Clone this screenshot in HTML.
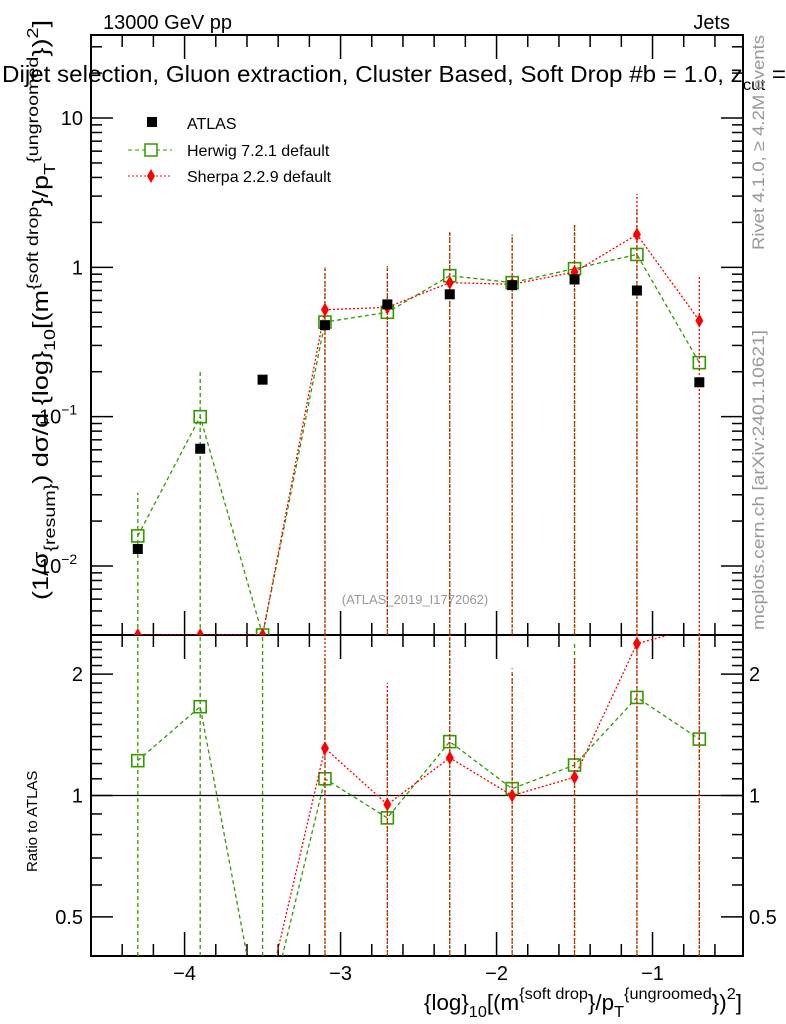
<!DOCTYPE html>
<html><head><meta charset="utf-8"><style>
body{margin:0;background:#fff;}
svg{display:block;font-family:"Liberation Sans",sans-serif;}
</style></head><body>
<svg id="c" width="786" height="1024" viewBox="0 0 786 1024">
<g id="static">
<text x="103" y="29" font-size="20">13000 GeV pp</text>
<text x="730" y="29" font-size="20" text-anchor="end">Jets</text>
<text x="2" y="82" font-size="23" textLength="784" lengthAdjust="spacingAndGlyphs">Dijet selection, Gluon extraction, Cluster Based, Soft Drop #b = 1.0, z<tspan font-size="16" dy="8">cut</tspan><tspan dy="-8"> =</tspan></text>
<text transform="translate(764,250) rotate(-90)" font-size="17" fill="#999" textLength="215" lengthAdjust="spacingAndGlyphs">Rivet 4.1.0, ≥ 4.2M events</text>
<text transform="translate(764,630) rotate(-90)" font-size="17" fill="#999" textLength="300" lengthAdjust="spacingAndGlyphs">mcplots.cern.ch [arXiv:2401.10621]</text>
<text x="415" y="604" font-size="13" fill="#999" text-anchor="middle">(ATLAS_2019_I1772062)</text>
<text transform="translate(48,600) rotate(-90)" font-size="22" textLength="580" lengthAdjust="spacingAndGlyphs">(1/σ<tspan font-size="16" dy="7">{resum}</tspan><tspan dy="-7">) dσ/d {log}</tspan><tspan font-size="16" dy="7">10</tspan><tspan dy="-7">[(m</tspan><tspan font-size="16" dy="-10">{soft drop</tspan><tspan dy="10">}/p</tspan><tspan font-size="16" dy="7">T</tspan><tspan font-size="16" dy="-17">{ungroomed</tspan><tspan dy="10">})</tspan><tspan font-size="16" dy="-10">2</tspan><tspan dy="10">]</tspan></text>
<text transform="translate(37,872) rotate(-90)" font-size="15">Ratio to ATLAS</text>
<text x="742" y="1010" font-size="22" text-anchor="end" textLength="318" lengthAdjust="spacingAndGlyphs">{log}<tspan font-size="16" dy="7">10</tspan><tspan dy="-7">[(m</tspan><tspan font-size="16" dy="-11">{soft drop</tspan><tspan dy="11">}/p</tspan><tspan font-size="16" dy="7">T</tspan><tspan font-size="16" dy="-18">{ungroomed</tspan><tspan dy="11">})</tspan><tspan font-size="16" dy="-11">2</tspan><tspan dy="11">]</tspan></text>
<g>
<rect x="147" y="117" width="10" height="10" fill="#000"/>
<text x="187" y="129" font-size="16">ATLAS</text>
<line x1="128" y1="150" x2="172" y2="150" stroke="#390" stroke-dasharray="4,3"/>
<rect x="145" y="144" width="12" height="12" fill="#fff" stroke="#390" stroke-width="1.5"/>
<text x="187" y="156" font-size="16">Herwig 7.2.1 default</text>
<line x1="128" y1="176" x2="172" y2="176" stroke="#f00" stroke-dasharray="2,2"/>
<path d="M151,169 L155,176 L151,183 L147,176Z" fill="#f00"/>
<text x="187" y="182" font-size="16">Sherpa 2.2.9 default</text>
</g>
</g>
<g id="dyn"></g>
</svg>
<script>
const xCenters=[-4.3,-3.9,-3.5,-3.1,-2.7,-2.3,-1.9,-1.5,-1.1,-0.7];
const atlasVals=[0.013,0.061,0.177,0.41,0.565,0.66,0.76,0.83,0.70,0.17];
const herwigVals=[0.0159,0.10,0.0001,0.43,0.50,0.88,0.79,0.98,1.22,0.23];
const herwigUp=[0.031,0.20,0.0001,1.0,1.0,1.77,1.66,1.94,2.5,0.0001];
const sherpaVals=[0.0001,0.0001,0.0001,0.52,0.54,0.79,0.77,0.93,1.66,0.44];
const sherpaUp=[0.0001,0.0001,0.0001,1.0,1.02,1.72,1.6,1.94,3.1,0.87];
const herwigRatio=[1.22,1.66,0.25,1.10,0.88,1.36,1.04,1.19,1.75,1.38];
const herwigRatioUp=[9,9,9,2.2,1.77,9,2.07,2.39,9,9];
const sherpaRatio=[null,null,0.285,1.31,0.95,1.24,1.0,1.11,2.38,2.62];
const sherpaRatioUp=[null,null,null,9,1.9,9,2.02,2.2,9,9];
const xTicks=[-4,-3,-2,-1];
const yMainTicks=[10,1,0.1,0.01];
const yMainLabels=["10","1","10","10"];
const yMainExp=["","","−1","−2"];
const yRatioTicks=[2,1,0.5];
const yRatioLabels=["2","1","0.5"];

const L=91,R=743,MT=35,MB=635,RT=635,RB=956;
const X0=-4.6,X1=-0.42;
const LMAX=1.556,LMIN=-2.462;
const RMAX=Math.log2(2.5),RMIN=Math.log2(0.4);
const xS=v=>L+(v-X0)/(X1-X0)*(R-L);
const yM=v=>{let y=MT+(LMAX-Math.log10(v))/(LMAX-LMIN)*(MB-MT);return Math.min(y,MB);};
const yR=v=>{let y=RT+(RMAX-Math.log2(v))/(RMAX-RMIN)*(RB-RT);return y;};
const NS="http://www.w3.org/2000/svg";
const dyn=document.getElementById('dyn');
function mk(t,a,p){const e=document.createElementNS(NS,t);for(const k in a)e.setAttribute(k,a[k]);(p||dyn).appendChild(e);return e;}
const defs=mk('defs',{});
const c2=mk('clipPath',{id:'cr'},defs);mk('rect',{x:L,y:RT,width:R-L,height:RB-RT},c2);
const c3=mk('clipPath',{id:'cm2'},defs);mk('rect',{x:L,y:MT,width:R-L,height:MB-MT},c3);

function frame(top,bot,name){
  const f=mk('rect',{x:L,y:top,width:R-L,height:bot-top,fill:'none',stroke:'#000','stroke-width':2});
  
  
  for(let v=-4.6;v<=-0.4;v+=0.2){
    const x=xS(v);const maj=Math.abs(v-Math.round(v))<0.01;const len=maj?24:12;
    mk('line',{x1:x,y1:bot,x2:x,y2:bot-len,stroke:'#000','stroke-width':1.5});
    mk('line',{x1:x,y1:top,x2:x,y2:top+len,stroke:'#000','stroke-width':1.5});
  }
}
frame(MT,MB,'main-frame');frame(RT,RB,'ratio-frame');
for(let d=-3;d<=1;d++){for(let m=1;m<=9;m++){const v=m*Math.pow(10,d);if(v>Math.pow(10,LMAX)||v<Math.pow(10,LMIN))continue;const y=yM(v);const len=m==1?22:11;
  mk('line',{x1:L,y1:y,x2:L+len,y2:y,stroke:'#000','stroke-width':1.5});
  mk('line',{x1:R,y1:y,x2:R-len,y2:y,stroke:'#000','stroke-width':1.5});}}
yMainTicks.forEach((v,i)=>{const t=mk('text',{x:L-8,y:yM(v)+7,'font-size':20,'text-anchor':'end'});
  
  
  if(yMainExp[i]){t.textContent=yMainLabels[i];const s=mk('tspan',{'font-size':14,dy:-9},t);s.textContent=yMainExp[i];t.setAttribute('text-anchor','start');t.setAttribute('x',L-52);}
  else t.textContent=yMainLabels[i];});
for(let v=0.4;v<=2.5001;v+=0.1){const y=yR(v);const maj=[0.5,1,2].some(q=>Math.abs(q-v)<1e-6);const len=maj?22:11;
  mk('line',{x1:L,y1:y,x2:L+len,y2:y,stroke:'#000','stroke-width':1.5});
  mk('line',{x1:R,y1:y,x2:R-len,y2:y,stroke:'#000','stroke-width':1.5});}
yRatioTicks.forEach((v,i)=>{
  const t=mk('text',{x:L-8,y:yR(v)+7,'font-size':20,'text-anchor':'end'});t.textContent=yRatioLabels[i];
  
  
  const t2=mk('text',{x:R+6,y:yR(v)+7,'font-size':20});t2.textContent=yRatioLabels[i];
  
  
});
xTicks.forEach(v=>{const t=mk('text',{x:xS(v),y:980,'font-size':20,'text-anchor':'middle'});t.textContent='−'+Math.abs(v);
  
  });
mk('line',{x1:L,y1:yR(1),x2:R,y2:yR(1),stroke:'#000','stroke-width':1.2});

const gm=mk('g',{'clip-path':'url(#cm2)'});
function series(vals,ups,color,dash,kind,g,yf,bot,name){
  const pts=[];
  vals.forEach((v,i)=>{if(v==null)return;pts.push(xS(xCenters[i])+','+yf(v));});
  const pl=mk('polyline',{points:pts.join(' '),fill:'none',stroke:color,'stroke-width':1.3,'stroke-dasharray':dash},g);
  
  
  vals.forEach((v,i)=>{if(v==null)return;const x=xS(xCenters[i]),y=yf(v);
    if(ups[i]!=null){const e=mk('line',{x1:x,y1:bot,x2:x,y2:yf(ups[i]),stroke:color,'stroke-width':1.3,'stroke-dasharray':dash},g);
      
      }
    let m;
    if(kind=='sq'){m=mk('rect',{x:x-6,y:y-6,width:12,height:12,fill:'#fff','fill-opacity':0,stroke:color,'stroke-width':1.6},g);}
    else{m=mk('path',{d:`M${x},${y-7} L${x+4},${y} L${x},${y+7} L${x-4},${y}Z`,fill:color},g);}
    
    
  });
}
series(herwigVals,herwigUp,'#390','4,3','sq',gm,yM,MB,'herwig');
series(sherpaVals,sherpaUp,'#f00','2,2','di',gm,yM,MB,'sherpa');
atlasVals.forEach((v,i)=>{const x=xS(xCenters[i]),y=yM(v);const r=mk('rect',{x:x-5,y:y-5,width:10,height:10,fill:'#000'},gm);
  
  });
const gr=mk('g',{'clip-path':'url(#cr)'});
series(herwigRatio,herwigRatioUp,'#390','4,3','sq',gr,yR,RB,'herwig-ratio');
series(sherpaRatio,sherpaRatioUp,'#f00','2,2','di',gr,yR,RB,'sherpa-ratio');
</script>
</body></html>
